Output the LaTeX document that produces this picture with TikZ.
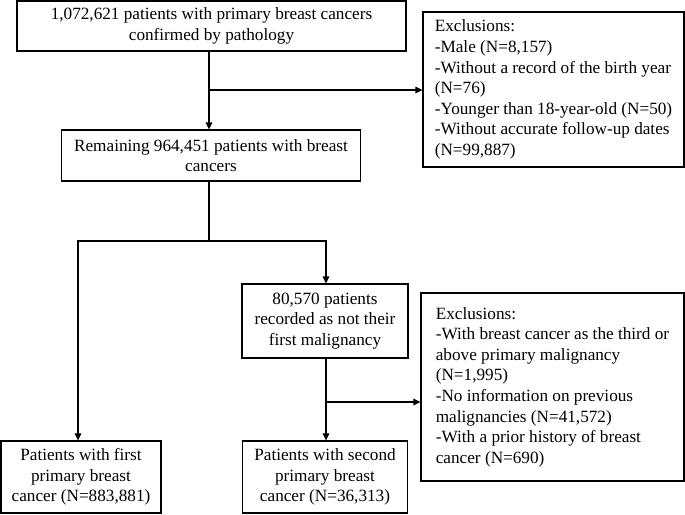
\documentclass[tikz,border=0pt]{standalone}
\usepackage{fontspec}
\setmainfont{Liberation Serif}
\usetikzlibrary{arrows.meta}
\begin{document}
\begin{tikzpicture}[x=1pt,y=-1pt,
  box/.style={draw=black,line width=1.1pt,inner sep=0pt,align=center,
    font=\fontsize{17.2pt}{20.6pt}\selectfont},
  exbox/.style={draw=black,line width=1.1pt,inner sep=0pt,align=left,
    font=\fontsize{17.2pt}{20.6pt}\selectfont},
  arr/.style={line width=1.1pt,-{Triangle[length=7pt,width=6.5pt]}},
  ln/.style={line width=1.1pt}]
\useasboundingbox (0,0) rectangle (685,514);
\node[box,minimum width=389pt,minimum height=50pt] (b1) at (211.5,26)
  {1,072,621 patients with primary breast cancers\\confirmed by pathology};
\node[exbox,minimum width=261pt,minimum height=155pt] (e1) at (553.5,89.5)
  {Exclusions:\\-Male (N=8,157)\\-Without a record of the birth year\\(N=76)\\-Younger than 18-year-old (N=50)\\-Without accurate follow-up dates\\(N=99,887)};
\node[box,minimum width=299pt,minimum height=51pt] (b2) at (211,155.5)
  {Remaining 964,451 patients with breast\\cancers};
\node[box,minimum width=166pt,minimum height=74pt] (b3) at (325,321)
  {80,570 patients\\recorded as not their\\first malignancy};
\node[exbox,minimum width=263pt,minimum height=188pt] (e2) at (552.5,387)
  {Exclusions:\\-With breast cancer as the third or\\above primary malignancy\\(N=1,995)\\-No information on previous\\malignancies (N=41,572)\\-With a prior history of breast\\cancer (N=690)};
\node[box,minimum width=160pt,minimum height=72pt] (b4) at (81,477)
  {Patients with first\\primary breast\\cancer (N=883,881)};
\node[box,minimum width=165pt,minimum height=72pt] (b5) at (325,477)
  {Patients with second\\primary breast\\cancer (N=36,313)};
\coordinate (j1) at (209,90);
\coordinate (j2) at (209,241);
\coordinate (j3) at (326,402);
\draw[arr] (b1.south -| j1) -- (b2.north -| j1);
\draw[arr] (j1) -- (j1 -| e1.west);
\draw[ln] (b2.south -| j2) -- (j2);
\draw[arr] (j2) -| (b4.north -| 78,0);
\draw[arr] (j2) -| (b3.north -| j3);
\draw[arr] (b3.south -| j3) -- (b5.north -| j3);
\draw[arr] (j3) -- (j3 -| e2.west);
\end{tikzpicture}
\end{document}
